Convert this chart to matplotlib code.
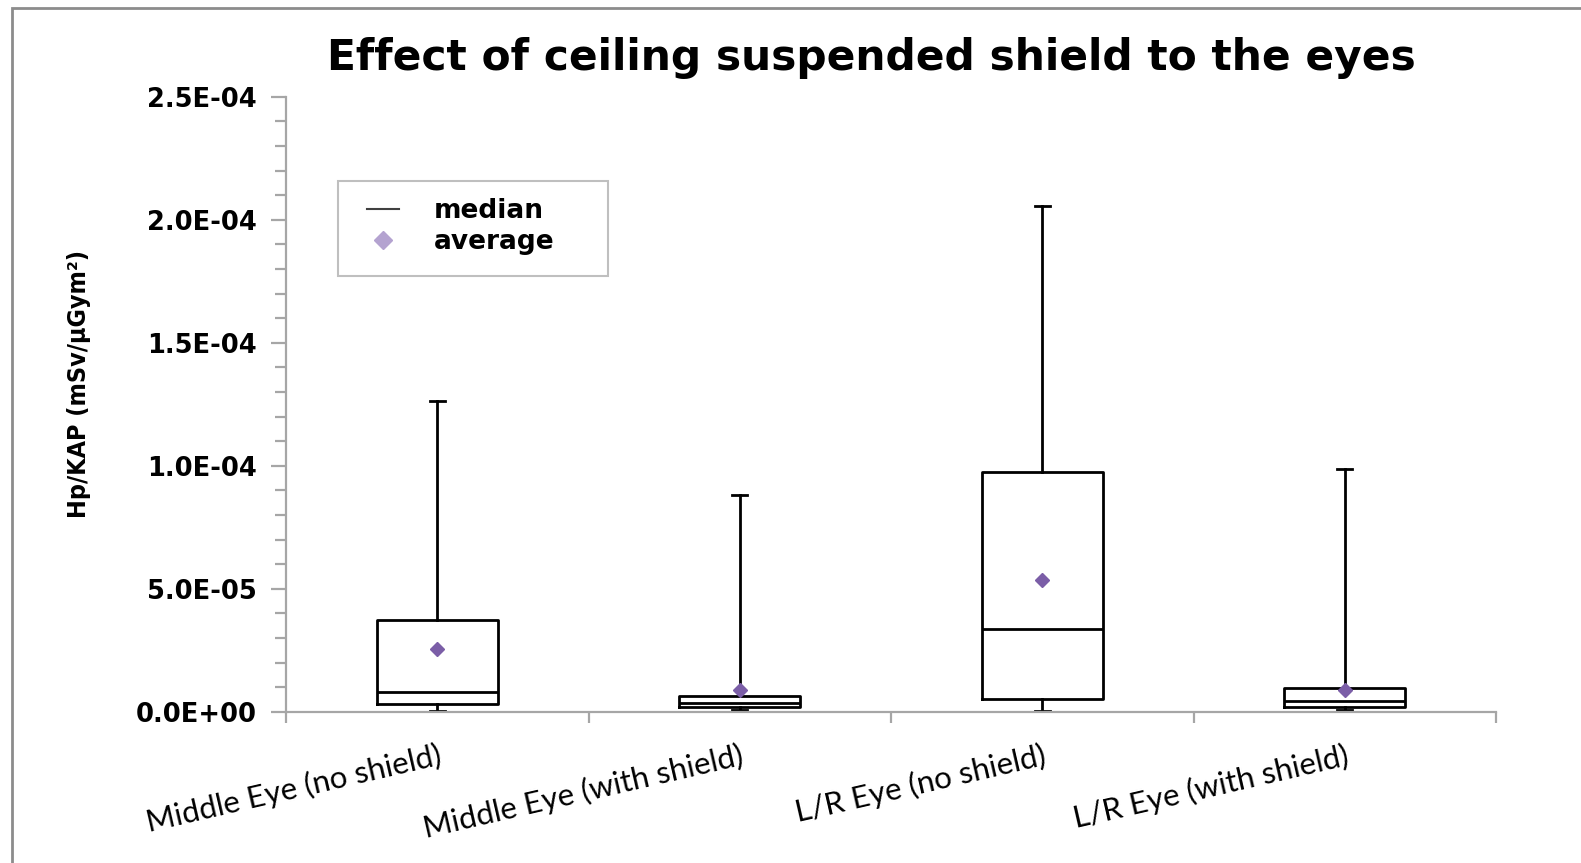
import numpy as np
import matplotlib.pyplot as plt
from matplotlib.lines import Line2D
from matplotlib.patches import Rectangle
from matplotlib.ticker import MultipleLocator, FuncFormatter, FixedLocator, NullFormatter

#--------------------- DONNEES -------------------#
groups = ["Middle Eye (no shield)", "Middle Eye (with shield)",
          "L/R Eye (no shield)", "L/R Eye (with shield)"]
whis_low = [1.0e-7, 7.0e-7, 1.0e-7, 7.0e-7]
q1 = [3.0e-6, 2.0e-6, 5.2e-6, 2.0e-6]
median = [8.0e-6, 3.7e-6, 3.35e-5, 4.5e-6]
q3 = [3.72e-5, 6.5e-6, 9.76e-5, 9.5e-6]
whis_high = [1.262e-4, 8.81e-5, 2.054e-4, 9.88e-5]
average = [2.55e-5, 8.7e-6, 5.37e-5, 8.8e-6]

title = "Effect of ceiling suspended shield to the eyes"
ylabel = "Hp/KAP (mSv/µGym²)"

#--------------------- FIGURE -------------------#
W, H = 1581, 863
fig = plt.figure(figsize=(W / 100, H / 100), dpi=100)
ax = fig.add_axes([286 / W, 1 - 711.7 / H, (1496 - 286) / W, (711.7 - 96.7) / H])

stats = []
for i in range(len(groups)):
    stats.append({"label": groups[i], "whislo": whis_low[i], "q1": q1[i],
                  "med": median[i], "q3": q3[i], "whishi": whis_high[i],
                  "mean": average[i]})

pos = np.arange(1, len(groups) + 1)
line_kw = dict(color="black", linewidth=2)
ax.bxp(stats, positions=pos, widths=0.40, showfliers=False, showmeans=True,
       boxprops=line_kw, medianprops=line_kw, whiskerprops=line_kw,
       capprops=line_kw, capwidths=0.05,
       meanprops=dict(marker="D", markersize=7, markerfacecolor="#7b5ea7",
                      markeredgecolor="#7b5ea7"))

# axes et graduations
ax.set_xlim(0.5, len(groups) + 0.5)
ax.set_ylim(0, 2.5e-4)
grey = "#a6a6a6"
for s in ["top", "right"]:
    ax.spines[s].set_visible(False)
for s in ["left", "bottom"]:
    ax.spines[s].set_color(grey)
    ax.spines[s].set_linewidth(1.6)

ax.yaxis.set_major_locator(MultipleLocator(5e-5))
ax.yaxis.set_minor_locator(MultipleLocator(1e-5))
ax.yaxis.set_major_formatter(FuncFormatter(lambda v, p: f"{v:.1E}"))
ax.tick_params(axis="y", which="major", length=11, width=1.6, color=grey,
               labelsize=18.5, pad=10)
ax.tick_params(axis="y", which="minor", length=8, width=1.6, color=grey)
for t in ax.get_yticklabels():
    t.set_fontweight("bold")
    t.set_fontfamily("DejaVu Sans")

ax.xaxis.set_major_locator(FixedLocator(np.arange(0.5, len(groups) + 1, 1)))
ax.xaxis.set_major_formatter(NullFormatter())
ax.set_xticks(pos, groups, minor=True)
ax.tick_params(axis="x", which="major", length=8, width=1.6, color=grey)
ax.tick_params(axis="x", which="minor", length=0, pad=21, labelsize=22.5)
for t in ax.get_xticklabels(minor=True):
    t.set_rotation(13)
    t.set_ha("right")
    t.set_rotation_mode("anchor")
    t.set_fontfamily(["Lato", "DejaVu Sans"])

fig.text(78.6 / W, 1 - 384 / H, ylabel, rotation=90, ha="center", va="center",
         fontsize=18, fontweight="bold", fontstretch="condensed",
         family="DejaVu Sans")

fig.text(871 / W, 1 - 58 / H, title, ha="center", va="center",
         fontsize=30.5, fontweight="bold", family="DejaVu Sans")

# legende : cadre trace a part, entrees sans cadre
fig.patches.append(Rectangle((338 / W, 1 - 276 / H), 270 / W, 94.5 / H,
                             transform=fig.transFigure, fill=False,
                             edgecolor="#bfbfbf", linewidth=1.5))
handles = [Line2D([], [], color="#404040", linewidth=1.5),
           Line2D([], [], linestyle="none", marker="D", markersize=9,
                  markerfacecolor="#b4a3d0", markeredgecolor="#b4a3d0")]
fig.legend(handles, ["median", "average"], loc="upper left",
           bbox_to_anchor=(367 / W, 1 - 198 / H), frameon=False,
           borderpad=0, borderaxespad=0,
           handlelength=1.2, handletextpad=1.33, labelspacing=0.2,
           prop={"family": "DejaVu Sans", "weight": "bold", "size": 19})

# cadre exterieur
fig.patches.append(Rectangle((12 / W, -0.1), 1.2, 1 - 8 / H + 0.1,
                             transform=fig.transFigure, fill=False,
                             edgecolor="#8c8c8c", linewidth=2))

fig.savefig("out.png", dpi=100)
